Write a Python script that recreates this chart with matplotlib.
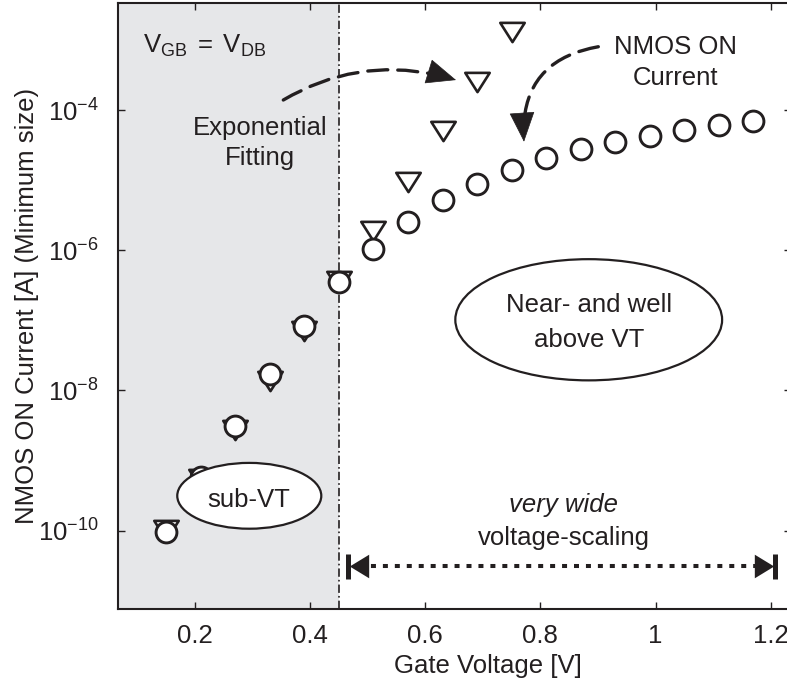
import matplotlib
matplotlib.use("Agg")
import matplotlib.pyplot as plt
import numpy as np
from matplotlib.patches import Ellipse
from matplotlib.path import Path
from matplotlib.ticker import FixedLocator, FixedFormatter, FuncFormatter

plt.rcParams["font.family"] = ["Liberation Sans", "DejaVu Sans"]
plt.rcParams["mathtext.fontset"] = "custom"
plt.rcParams["mathtext.rm"] = "Liberation Sans"
plt.rcParams["mathtext.it"] = "Liberation Sans:italic"
plt.rcParams["mathtext.bf"] = "Liberation Sans:bold"
plt.rcParams["lines.scale_dashes"] = False

# ---- data -------------------------------------------------------------
# measured NMOS ON current (circles)
vg_meas = [0.15, 0.21, 0.27, 0.33, 0.39, 0.45, 0.51, 0.57, 0.63, 0.69,
           0.75, 0.81, 0.87, 0.93, 0.99, 1.05, 1.11, 1.17]
i_meas = [9.7e-11, 5.75e-10, 3.16e-9, 1.74e-8, 8.3e-8, 3.47e-7, 1.05e-6,
          2.51e-6, 5.13e-6, 8.9e-6, 1.41e-5, 2.04e-5, 2.75e-5, 3.55e-5,
          4.27e-5, 5.19e-5, 6.03e-5, 6.92e-5]

# exponential (sub-threshold) fit (triangles)
vg_fit = [0.15, 0.21, 0.27, 0.33, 0.39, 0.45, 0.51, 0.57, 0.63, 0.69, 0.75]
i_fit = [1.03e-10, 5.5e-10, 2.69e-9, 1.38e-8, 7.08e-8, 3.63e-7, 1.91e-6,
         9.55e-6, 5.01e-5, 2.51e-4, 1.29e-3]

vt_boundary = 0.45
x_ticks = [0.2, 0.4, 0.6, 0.8, 1.0, 1.2]
x_ticklabels = ["0.2", "0.4", "0.6", "0.8", "1", "1.2"]
y_ticks = [1e-10, 1e-8, 1e-6, 1e-4]

INK = "#231f20"
FS = 18.5

# ---- figure -----------------------------------------------------------
W, H = 787, 683
fig = plt.figure(figsize=(W / 100, H / 100), dpi=100)
ax_l, ax_r, ax_b, ax_t = 118.3, 791.0, 609.3, 2.7
ax = fig.add_axes([ax_l / W, (H - ax_b) / H, (ax_r - ax_l) / W, (ax_b - ax_t) / H])

xmin, xmax = 0.0668, 1.2353
ax.set_yscale("log")
ax.set_xlim(xmin, xmax)
ax.set_ylim(10 ** -11.121, 10 ** -2.469)

# sub-threshold region shading and boundary
ax.axvspan(xmin, vt_boundary, color="#e6e7e9", zorder=0, lw=0)
ax.axvline(vt_boundary, color=INK, lw=1.2,
           linestyle=(0, (6.0, 2.2, 1.2, 2.2)), zorder=1)

# markers
tri_down = Path([(-1.27, 1.0), (1.27, 1.0), (0.0, -1.0), (-1.27, 1.0)],
                [Path.MOVETO, Path.LINETO, Path.LINETO, Path.CLOSEPOLY])
ax.plot(vg_fit, i_fit, linestyle="none", marker=tri_down, markersize=17.6,
        markerfacecolor="white", markeredgecolor=INK, markeredgewidth=1.9,
        zorder=3)
ax.plot(vg_meas, i_meas, linestyle="none", marker="o", markersize=15.0,
        markerfacecolor="white", markeredgecolor=INK, markeredgewidth=2.1,
        zorder=4)

# ticks / spines
ax.xaxis.set_major_locator(FixedLocator(x_ticks))
ax.xaxis.set_major_formatter(FixedFormatter(x_ticklabels))
ax.yaxis.set_major_locator(FixedLocator(y_ticks))
ax.yaxis.set_minor_locator(FixedLocator([]))
ax.yaxis.set_major_formatter(
    FuncFormatter(lambda v, p: r"$\mathregular{10^{%d}}$" % round(np.log10(v))))
ax.tick_params(axis="both", which="major", direction="in", length=4.8,
               width=1.0, top=True, right=True, labelsize=FS, colors=INK)
ax.tick_params(axis="x", pad=10.5)
ax.tick_params(axis="y", pad=14)
for s in ax.spines.values():
    s.set_linewidth(1.5)
    s.set_color(INK)

ax.set_xlabel("Gate Voltage [V]", fontsize=FS, color=INK)
ax.xaxis.set_label_coords(0.5488, -0.0737)
ax.set_ylabel("NMOS ON Current [A] (Minimum size)", fontsize=FS, color=INK)
ax.yaxis.set_label_coords(-0.1186, 0.5)

# annotations
ax.text(0.110, 10 ** -3.18, r"$\mathregular{V_{GB}\;=\;V_{DB}}$", fontsize=FS,
        ha="left", va="baseline", color=INK, zorder=6)
ax.text(0.3129, 10 ** -4.357, "Exponential", fontsize=FS, ha="center",
        va="baseline", color=INK, zorder=6)
ax.text(0.3129, 10 ** -4.785, "Fitting", fontsize=FS, ha="center",
        va="baseline", color=INK, zorder=6)
ax.text(1.0343, 10 ** -3.201, "NMOS ON", fontsize=FS, ha="center",
        va="baseline", color=INK, zorder=6)
ax.text(1.0343, 10 ** -3.643, "Current", fontsize=FS, ha="center",
        va="baseline", color=INK, zorder=6)


def curved_arrow(start, tip, rad, head_len_px=27.0):
    """Dashed arc3 curve from start to tip, finished with a solid head."""
    ax.annotate("", xy=tip, xytext=start,
                arrowprops=dict(arrowstyle="-", connectionstyle=f"arc3,rad={rad}",
                                linestyle=(0, (14.4, 7.2)), lw=2.4, color=INK,
                                shrinkA=0, shrinkB=head_len_px * 0.72 * 0.8),
                zorder=5)
    # tangent of the quadratic curve at the tip (display space)
    p0 = ax.transData.transform(start)
    p2 = ax.transData.transform(tip)
    dx, dy = p2 - p0
    ctrl = (p0 + p2) / 2 + rad * np.array([dy, -dx])
    d = p2 - ctrl
    d /= np.hypot(*d)
    base = ax.transData.inverted().transform(p2 - d * head_len_px)
    ax.annotate("", xy=tip, xytext=tuple(base),
                arrowprops=dict(arrowstyle="-|>,head_length=2.0,head_width=0.85",
                                lw=0.5, color=INK, shrinkA=0, shrinkB=0,
                                mutation_scale=10),
                zorder=5)


curved_arrow((0.3534, 10 ** -3.857), (0.6534, 10 ** -3.572), -0.22)
curved_arrow((0.9006, 10 ** -3.097), (0.7715, 10 ** -4.452), 0.45)

# region bubbles
ax.add_patch(Ellipse((0.1947, 0.1871), 0.2141, 0.1085, transform=ax.transAxes,
                     facecolor="white", edgecolor=INK, lw=1.6, zorder=7))
ax.text(0.2926, 10 ** -9.658, "sub-VT", fontsize=FS, ha="center",
        va="baseline", color=INK, zorder=8)
ax.add_patch(Ellipse((0.6993, 0.4773), 0.3966, 0.1998, transform=ax.transAxes,
                     facecolor="white", edgecolor=INK, lw=1.6, zorder=7))
ax.text(0.8853, 10 ** -6.877, "Near- and well", fontsize=FS, ha="center",
        va="baseline", color=INK, zorder=8)
ax.text(0.8853, 10 ** -7.377, "above VT", fontsize=FS, ha="center",
        va="baseline", color=INK, zorder=8)

# voltage-scaling range
ax.text(0.8406, 10 ** -9.73, "very wide", fontsize=FS, style="italic",
        ha="center", va="baseline", color=INK, zorder=6)
ax.text(0.8406, 10 ** -10.205, "voltage-scaling", fontsize=FS, ha="center",
        va="baseline", color=INK, zorder=6)

y_rng = 10 ** -10.505
ax.plot([0.4849, 1.1883], [y_rng, y_rng], color=INK, lw=2.9,
        linestyle=(0, (3.6, 5.0)), solid_capstyle="butt",
        dash_capstyle="butt", zorder=5)
head_left = Path([(-0.82, 0.0), (0.82, 1.0), (0.82, -1.0), (-0.82, 0.0)],
                 [Path.MOVETO, Path.LINETO, Path.LINETO, Path.CLOSEPOLY])
head_right = Path([(0.82, 0.0), (-0.82, 1.0), (-0.82, -1.0), (0.82, 0.0)],
                  [Path.MOVETO, Path.LINETO, Path.LINETO, Path.CLOSEPOLY])
ax.plot([0.4849], [y_rng], marker=head_left, markersize=17.0, color=INK,
        markeredgewidth=0, linestyle="none", zorder=6)
ax.plot([1.1883], [y_rng], marker=head_right, markersize=17.0, color=INK,
        markeredgewidth=0, linestyle="none", zorder=6)
ax.plot([0.4663, 1.2075], [y_rng, y_rng], marker="|", markersize=18,
        markeredgewidth=3.6, color=INK, linestyle="none", zorder=6)

fig.savefig("out.png", dpi=100)
